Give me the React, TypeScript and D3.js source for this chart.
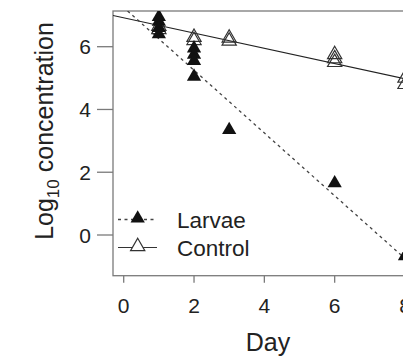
import React, { useEffect, useRef } from 'react'
import * as d3 from 'd3'

// Larvae (filled triangles)
const larvaeDays = [1, 1, 1, 1, 2, 2, 2, 2, 3, 6, 8]
const larvaeLog = [6.95, 6.8, 6.6, 6.4, 5.95, 5.75, 5.55, 5.05, 3.35, 1.65, -0.67]

// Control (open triangles)
const controlDays = [1, 1, 2, 2, 3, 3, 6, 6, 6, 8, 8]
const controlLog = [6.65, 6.55, 6.3, 6.2, 6.28, 6.18, 5.75, 5.62, 5.5, 5.0, 4.8]

// fitted lines: [intercept, slope]
const larvaeFit = [7.25, -1.0]
const controlFit = [6.92, -0.243]

const xTicks = [0, 2, 4, 6, 8]
const yTicks = [0, 2, 4, 6]

const W = 403
const H = 356
const FONT = '"Liberation Sans", Arial, sans-serif'

export default function App() {
  const svgRef = useRef<SVGSVGElement>(null)

  useEffect(() => {
    const svg = d3.select(svgRef.current)
    svg.selectAll('*').remove()

    const box = { left: 113, top: 11, right: 425, bottom: 275.7 }
    const x = d3.scaleLinear().domain([0, 8]).range([123.7, 405])
    const y = d3.scaleLinear().domain([0, 6]).range([235, 46.7])

    svg.append('defs').append('clipPath').attr('id', 'plotclip')
      .append('rect')
      .attr('x', box.left).attr('y', box.top)
      .attr('width', box.right - box.left).attr('height', box.bottom - box.top)

    // plot frame
    svg.append('rect')
      .attr('x', box.left).attr('y', box.top)
      .attr('width', box.right - box.left).attr('height', box.bottom - box.top)
      .attr('fill', 'none').attr('stroke', '#7a7a7a').attr('stroke-width', 1.3)

    // x axis ticks
    const gx = svg.append('g')
    xTicks.forEach(t => {
      gx.append('line')
        .attr('x1', x(t)).attr('x2', x(t))
        .attr('y1', box.bottom).attr('y2', box.bottom + 7)
        .attr('stroke', '#7a7a7a').attr('stroke-width', 1.3)
      gx.append('text')
        .attr('x', x(t)).attr('y', 312.5)
        .attr('text-anchor', 'middle')
        .attr('font-family', FONT).attr('font-size', 21).attr('fill', '#222')
        .text(t)
    })

    // y axis ticks
    const gy = svg.append('g')
    yTicks.forEach(t => {
      gy.append('line')
        .attr('x1', 97).attr('x2', box.left)
        .attr('y1', y(t)).attr('y2', y(t))
        .attr('stroke', '#7a7a7a').attr('stroke-width', 1.3)
      gy.append('text')
        .attr('x', 91).attr('y', y(t)).attr('dy', '0.36em')
        .attr('text-anchor', 'end')
        .attr('font-family', FONT).attr('font-size', 21).attr('fill', '#222')
        .text(t)
    })

    // axis titles
    svg.append('text')
      .attr('x', 268).attr('y', 350.5)
      .attr('text-anchor', 'middle')
      .attr('font-family', FONT).attr('font-size', 25).attr('fill', '#222')
      .text('Day')

    const yt = svg.append('text')
      .attr('transform', 'translate(53,131) rotate(-90)')
      .attr('text-anchor', 'middle')
      .attr('font-family', FONT).attr('font-size', 25).attr('fill', '#222')
    yt.append('tspan').text('Log')
    yt.append('tspan').attr('font-size', 17).attr('dy', 6).text('10')
    yt.append('tspan').attr('dy', -6).text(' concentration')

    const plot = svg.append('g').attr('clip-path', 'url(#plotclip)')

    // fitted lines
    const fitLine = (fit: number[]) => {
      const d0 = x.invert(box.left), d1 = x.invert(box.right)
      return [[d0, fit[0] + fit[1] * d0], [d1, fit[0] + fit[1] * d1]]
    }
    const line = d3.line<number[]>().x(d => x(d[0])).y(d => y(d[1]))
    plot.append('path')
      .attr('d', line(fitLine(controlFit)))
      .attr('fill', 'none').attr('stroke', '#222').attr('stroke-width', 1.1)
    plot.append('path')
      .attr('d', line(fitLine(larvaeFit)))
      .attr('fill', 'none').attr('stroke', '#444').attr('stroke-width', 1.3)
      .attr('stroke-dasharray', '3,3.5')

    const tri = d3.symbol().type(d3.symbolTriangle).size(88)

    // control points
    controlDays.forEach((d, i) => {
      plot.append('path')
        .attr('d', tri())
        .attr('transform', `translate(${x(d)},${y(controlLog[i])})`)
        .attr('fill', 'none').attr('stroke', '#333').attr('stroke-width', 1.2)
    })
    // larvae points
    larvaeDays.forEach((d, i) => {
      plot.append('path')
        .attr('d', tri())
        .attr('transform', `translate(${x(d)},${y(larvaeLog[i])})`)
        .attr('fill', '#111')
    })

    // legend
    const lg = svg.append('g')
    const items = [
      { label: 'Larvae', y: 219.5, dash: '3,3.5', fill: '#111', stroke: '#444' },
      { label: 'Control', y: 247.5, dash: null, fill: '#fff', stroke: '#333' }
    ]
    items.forEach(it => {
      lg.append('line')
        .attr('x1', 118).attr('x2', 157).attr('y1', it.y).attr('y2', it.y)
        .attr('stroke', it.stroke).attr('stroke-width', it.dash ? 1.3 : 1.1)
        .attr('stroke-dasharray', it.dash)
      lg.append('path')
        .attr('d', tri())
        .attr('transform', `translate(137.7,${it.y - 1})`)
        .attr('fill', it.fill)
        .attr('stroke', it.dash ? 'none' : '#333').attr('stroke-width', 1.2)
      lg.append('text')
        .attr('x', 177).attr('y', it.y).attr('dy', '0.36em')
        .attr('font-family', FONT).attr('font-size', 22.5).attr('fill', '#222')
        .text(it.label)
    })
  }, [])

  return (
    <div style={{ position: 'absolute', left: 0, top: 0, width: W, height: H, background: '#fff' }}>
      <svg ref={svgRef} width={W} height={H} style={{ display: 'block' }} />
    </div>
  )
}
